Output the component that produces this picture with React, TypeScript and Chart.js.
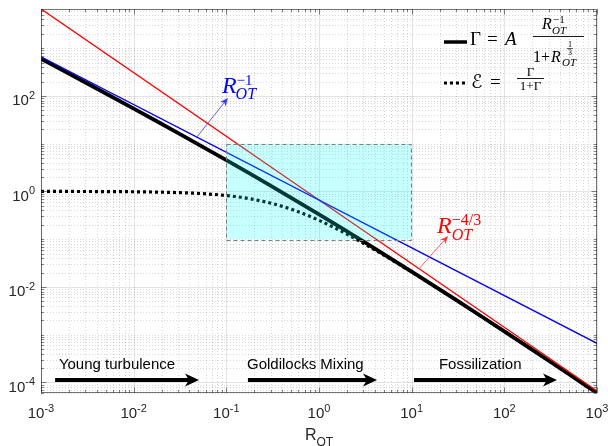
import React, { useEffect, useRef } from 'react';
import { Chart, registerables } from 'chart.js';

Chart.register(...registerables);

// ---- data ----
const xValues = [0.001, 0.0017783, 0.0031623, 0.0056234, 0.01, 0.017783, 0.031623, 0.056234, 0.1, 0.17783, 0.31623, 0.56234, 1, 1.7783, 3.1623, 5.6234, 10, 17.783, 31.623, 56.234, 100, 177.83, 316.23, 562.34, 1000];
const gammaValues = [600, 331.0, 182.0, 99.65, 54.3, 29.43, 15.857, 8.486, 4.508, 2.3756, 1.2414, 0.64297, 0.33, 0.16782, 0.084574, 0.042244, 0.020923, 0.010281, 0.0050144, 0.0024294, 0.0011699, 5.6035e-4, 2.6714e-4, 1.2683e-4, 6.0e-5];
const efficiencyValues = [0.99834, 0.99699, 0.99454, 0.99006, 0.98191, 0.96714, 0.94068, 0.89458, 0.81844, 0.70376, 0.55385, 0.39135, 0.24812, 0.14371, 0.07798, 0.040532, 0.020494, 0.010176, 0.0049894, 0.0024235, 0.0011685, 5.6004e-4, 2.6707e-4, 1.2681e-4, 5.9996e-5];
const powerLawX = [0.001, 1000];
const inverseValues = [660, 6.6e-4];
const fourThirdsValues = [6600, 6.6e-5];

const xTickExponents = [-3, -2, -1, 0, 1, 2, 3];
const yTickExponents = [-4, -2, 0, 2];
const xRange = [1e-3, 1e3];
const yRange = [6e-5, 6600];

const boxX = [0.1, 10];
const boxY = [0.1, 10];

const regimeLabels = ['Young turbulence', 'Goldilocks Mixing', 'Fossilization'];
const regimeTextX = [1.56e-3, 0.167, 19.7];
const regimeArrowStart = [1.42e-3, 0.171, 10.6];
const regimeArrowEnd = [0.0507, 4.23, 370];
const regimeTextY = 1.9e-4;
const regimeArrowY = 1.12e-4;

// annotation anchors in data units
const blueArrow = { from: [0.048, 13.7], to: [0.104, 90.4], label: [0.0897, 115] };
const redArrow = { from: [12.0, 0.024], to: [24.7, 0.1164], label: [18.8, 0.134] };

const SANS = '"Liberation Sans", Arial, Helvetica, sans-serif';
const SERIF = '"Liberation Serif", "Times New Roman", "DejaVu Serif", serif';
const AXIS = '#262626';

const pts = (xs: number[], ys: number[]) => xs.map((v, i) => ({ x: v, y: ys[i] }));

function drawArrow(ctx: CanvasRenderingContext2D, x1: number, y1: number, x2: number, y2: number, width: number, headLen: number, headHalf: number, color: string) {
  const ang = Math.atan2(y2 - y1, x2 - x1);
  const c = Math.cos(ang), s = Math.sin(ang);
  const notch = headLen * 0.72;
  ctx.save();
  ctx.strokeStyle = color;
  ctx.fillStyle = color;
  ctx.lineWidth = width;
  ctx.lineCap = 'butt';
  ctx.setLineDash([]);
  ctx.beginPath();
  ctx.moveTo(x1, y1);
  ctx.lineTo(x2 - c * notch, y2 - s * notch);
  ctx.stroke();
  ctx.beginPath();
  ctx.moveTo(x2, y2);
  ctx.lineTo(x2 - c * headLen - s * headHalf, y2 - s * headLen + c * headHalf);
  ctx.lineTo(x2 - c * notch, y2 - s * notch);
  ctx.lineTo(x2 - c * headLen + s * headHalf, y2 - s * headLen - c * headHalf);
  ctx.closePath();
  ctx.fill();
  ctx.restore();
}

function drawPow(ctx: CanvasRenderingContext2D, exp: string, px: number, baseline: number, align: 'center' | 'right') {
  ctx.font = `15px ${SANS}`;
  const wb = ctx.measureText('10').width;
  ctx.font = `11px ${SANS}`;
  const we = ctx.measureText(exp).width;
  const total = wb + we;
  const left = align === 'center' ? px - total / 2 : px - total;
  ctx.font = `15px ${SANS}`;
  ctx.fillText('10', left, baseline);
  ctx.font = `11px ${SANS}`;
  ctx.fillText(exp, left + wb, baseline - 6.5);
}

const decorPlugin = {
  id: 'matlabDecor',
  beforeDatasetsDraw(chart: any) {
    const { ctx, chartArea: a, scales } = chart;
    const xs = scales.x, ys = scales.y;
    ctx.save();
    ctx.lineWidth = 1;
    // vertical grid
    for (let d = -3; d <= 3; d++) {
      for (let k = 1; k <= 9; k++) {
        const v = k * Math.pow(10, d);
        if (v < xRange[0] * 0.999 || v > xRange[1] * 1.001) continue;
        const px = Math.round(xs.getPixelForValue(v)) + 0.5;
        const major = k === 1;
        ctx.strokeStyle = major ? 'rgba(38,38,38,0.13)' : 'rgba(38,38,38,0.18)';
        ctx.setLineDash(major ? [] : [1, 2]);
        ctx.beginPath();
        ctx.moveTo(px, a.top);
        ctx.lineTo(px, a.bottom);
        ctx.stroke();
      }
    }
    // horizontal grid
    for (let d = -5; d <= 3; d++) {
      for (let k = 1; k <= 9; k++) {
        const v = k * Math.pow(10, d);
        if (v < yRange[0] || v > yRange[1]) continue;
        const py = Math.round(ys.getPixelForValue(v)) + 0.5;
        const major = k === 1 && yTickExponents.includes(d);
        ctx.strokeStyle = major ? 'rgba(38,38,38,0.13)' : 'rgba(38,38,38,0.18)';
        ctx.setLineDash(major ? [] : [1, 2]);
        ctx.beginPath();
        ctx.moveTo(a.left, py);
        ctx.lineTo(a.right, py);
        ctx.stroke();
      }
    }
    ctx.restore();
  },
  afterDatasetsDraw(chart: any) {
    const { ctx, chartArea: a, scales } = chart;
    const xs = scales.x, ys = scales.y;
    const X = (v: number) => xs.getPixelForValue(v);
    const Y = (v: number) => ys.getPixelForValue(v);
    ctx.save();

    // cyan region
    const bx1 = X(boxX[0]), bx2 = X(boxX[1]), by1 = Y(boxY[1]), by2 = Y(boxY[0]);
    ctx.fillStyle = 'rgba(0,255,255,0.22)';
    ctx.fillRect(bx1, by1, bx2 - bx1, by2 - by1);
    ctx.strokeStyle = '#7f7f7f';
    ctx.lineWidth = 1;
    ctx.setLineDash([4, 3]);
    ctx.strokeRect(Math.round(bx1) + 0.5, Math.round(by1) + 0.5, Math.round(bx2 - bx1), Math.round(by2 - by1));
    ctx.setLineDash([]);

    // axes box
    ctx.strokeStyle = 'rgba(38,38,38,0.65)';
    ctx.lineWidth = 1;
    ctx.strokeRect(Math.round(a.left) + 0.5, Math.round(a.top) + 0.5, Math.round(a.right - a.left) - 1, Math.round(a.bottom - a.top) - 1);

    // ticks (inward, all sides)
    ctx.strokeStyle = 'rgba(38,38,38,0.7)';
    ctx.lineWidth = 0.8;
    for (let d = -3; d <= 3; d++) {
      for (let k = 1; k <= 9; k++) {
        const v = k * Math.pow(10, d);
        if (v < xRange[0] * 0.999 || v > xRange[1] * 1.001) continue;
        const px = Math.round(X(v)) + 0.5;
        const len = k === 1 ? 5.5 : 3;
        ctx.beginPath();
        ctx.moveTo(px, a.bottom);
        ctx.lineTo(px, a.bottom - len);
        ctx.moveTo(px, a.top);
        ctx.lineTo(px, a.top + len);
        ctx.stroke();
      }
    }
    for (let d = -5; d <= 3; d++) {
      for (let k = 1; k <= 9; k++) {
        const v = k * Math.pow(10, d);
        if (v < yRange[0] || v > yRange[1]) continue;
        const py = Math.round(Y(v)) + 0.5;
        const len = k === 1 && yTickExponents.includes(d) ? 5.5 : 3;
        ctx.beginPath();
        ctx.moveTo(a.left, py);
        ctx.lineTo(a.left + len, py);
        ctx.moveTo(a.right, py);
        ctx.lineTo(a.right - len, py);
        ctx.stroke();
      }
    }

    // tick labels
    ctx.fillStyle = AXIS;
    ctx.textAlign = 'left';
    ctx.textBaseline = 'alphabetic';
    for (const e of xTickExponents) drawPow(ctx, String(e), X(Math.pow(10, e)), a.bottom + 25, 'center');
    for (const e of yTickExponents) drawPow(ctx, String(e), a.left - 6, Y(Math.pow(10, e)) + 9.5, 'right');

    // x title R_OT
    ctx.font = `16px ${SANS}`;
    const wR = ctx.measureText('R').width;
    ctx.font = `12px ${SANS}`;
    const wOT = ctx.measureText('OT').width;
    const cx = X(1);
    const tl = cx - (wR + wOT) / 2;
    ctx.font = `16px ${SANS}`;
    ctx.fillText('R', tl, a.bottom + 47);
    ctx.font = `12px ${SANS}`;
    ctx.fillText('OT', tl + wR, a.bottom + 53);

    // regime arrows and texts
    ctx.fillStyle = '#000';
    ctx.font = `15px ${SANS}`;
    for (let i = 0; i < regimeLabels.length; i++) {
      ctx.fillText(regimeLabels[i], X(regimeTextX[i]), Y(regimeTextY));
      drawArrow(ctx, X(regimeArrowStart[i]), Y(regimeArrowY), X(regimeArrowEnd[i]), Y(regimeArrowY), 4, 14, 6.5, '#000');
    }

    // blue annotation R_OT^{-1}
    drawArrow(ctx, X(blueArrow.from[0]), Y(blueArrow.from[1]), X(blueArrow.to[0]), Y(blueArrow.to[1]), 0.8, 8, 3.5, '#3a3aff');
    {
      const lx = X(blueArrow.label[0]), ly = Y(blueArrow.label[1]);
      ctx.fillStyle = '#0000ff';
      ctx.font = `italic 24px ${SERIF}`;
      ctx.fillText('R', lx, ly);
      const w = ctx.measureText('R').width;
      ctx.font = `15px ${SERIF}`;
      ctx.fillText('\u22121', lx + w, ly - 8);
      ctx.font = `italic 16px ${SERIF}`;
      ctx.fillText('OT', lx + w - 1, ly + 6);
    }

    // red annotation R_OT^{-4/3}
    drawArrow(ctx, X(redArrow.from[0]), Y(redArrow.from[1]), X(redArrow.to[0]), Y(redArrow.to[1]), 0.8, 8, 3.5, '#ff3a3a');
    {
      const lx = X(redArrow.label[0]), ly = Y(redArrow.label[1]);
      ctx.fillStyle = '#ff0000';
      ctx.font = `italic 24px ${SERIF}`;
      ctx.fillText('R', lx, ly);
      const w = ctx.measureText('R').width;
      ctx.font = `16px ${SERIF}`;
      ctx.fillText('\u22124/3', lx + w, ly - 8);
      ctx.font = `italic 16px ${SERIF}`;
      ctx.fillText('OT', lx + w, ly + 7);
    }

    // legend (top right)
    {
      const L = a.right - 153; // 444
      const T = a.top;
      ctx.fillStyle = '#000';
      ctx.strokeStyle = '#000';
      // row 1 line
      ctx.lineWidth = 3.5;
      ctx.setLineDash([]);
      ctx.beginPath();
      ctx.moveTo(L, T + 33);
      ctx.lineTo(L + 23, T + 33);
      ctx.stroke();
      ctx.font = `19px ${SERIF}`;
      ctx.fillText('\u0393', L + 26, T + 36);
      ctx.fillText('=', L + 43, T + 36);
      ctx.font = `italic 19px ${SERIF}`;
      ctx.fillText('A', L + 61, T + 36);
      // fraction bar
      ctx.lineWidth = 0.9;
      ctx.beginPath();
      ctx.moveTo(L + 89, T + 27.5);
      ctx.lineTo(L + 140, T + 27.5);
      ctx.stroke();
      // numerator R_OT^{-1}
      ctx.font = `italic 16px ${SERIF}`;
      ctx.fillText('R', L + 98, T + 20);
      ctx.font = `11px ${SERIF}`;
      ctx.fillText('\u22121', L + 109, T + 14);
      ctx.font = `italic 11px ${SERIF}`;
      ctx.fillText('OT', L + 108, T + 25);
      // denominator 1+R_OT^{1/3}
      ctx.font = `16px ${SERIF}`;
      ctx.fillText('1+', L + 89, T + 53);
      ctx.font = `italic 16px ${SERIF}`;
      ctx.fillText('R', L + 107, T + 53);
      ctx.font = `italic 11px ${SERIF}`;
      ctx.fillText('OT', L + 118, T + 57);
      ctx.font = `8px ${SERIF}`;
      ctx.textAlign = 'center';
      ctx.fillText('1', L + 126, T + 38);
      ctx.fillText('3', L + 126, T + 46);
      ctx.textAlign = 'left';
      ctx.lineWidth = 0.6;
      ctx.beginPath();
      ctx.moveTo(L + 123, T + 39.5);
      ctx.lineTo(L + 129, T + 39.5);
      ctx.stroke();

      // row 2 dotted line
      ctx.lineWidth = 3;
      ctx.setLineDash([3, 3]);
      ctx.lineCap = 'butt';
      ctx.beginPath();
      ctx.moveTo(L, T + 74);
      ctx.lineTo(L + 24, T + 74);
      ctx.stroke();
      ctx.setLineDash([]);
      ctx.font = `19px "DejaVu Serif", "DejaVu Sans", serif`;
      ctx.fillText('\u2130', L + 27, T + 79);
      ctx.font = `19px ${SERIF}`;
      ctx.fillText('=', L + 46, T + 79);
      ctx.lineWidth = 0.9;
      ctx.beginPath();
      ctx.moveTo(L + 73, T + 69.5);
      ctx.lineTo(L + 100, T + 69.5);
      ctx.stroke();
      ctx.font = `13px ${SERIF}`;
      ctx.textAlign = 'center';
      ctx.fillText('\u0393', L + 86.5, T + 67);
      ctx.fillText('1+\u0393', L + 86.5, T + 81);
      ctx.textAlign = 'left';
    }

    ctx.restore();
  },
};

export default function App() {
  const ref = useRef<HTMLCanvasElement>(null);
  useEffect(() => {
    if (!ref.current) return;
    const chart = new Chart(ref.current, {
      type: 'line',
      data: {
        datasets: [
          { label: 'R^-1', data: pts(powerLawX, inverseValues), borderColor: '#0000ff', borderWidth: 1.4 },
          { label: 'R^-4/3', data: pts(powerLawX, fourThirdsValues), borderColor: '#ff0000', borderWidth: 1.4 },
          { label: 'E', data: pts(xValues, efficiencyValues), borderColor: '#000000', borderWidth: 3.2, borderDash: [3, 3], borderCapStyle: 'butt', cubicInterpolationMode: 'monotone' },
          { label: 'Gamma', data: pts(xValues, gammaValues), borderColor: '#000000', borderWidth: 3.8, cubicInterpolationMode: 'monotone' },
        ] as any,
      },
      options: {
        animation: false,
        responsive: false,
        devicePixelRatio: 1,
        layout: { padding: { left: 41, top: 9, right: 11, bottom: 53 } },
        elements: { point: { radius: 0 }, line: { fill: false } },
        plugins: { legend: { display: false }, tooltip: { enabled: false } },
        scales: {
          x: { type: 'logarithmic', min: xRange[0], max: xRange[1], display: false },
          y: { type: 'logarithmic', min: yRange[0], max: yRange[1], display: false },
        },
      } as any,
      plugins: [decorPlugin],
    });
    return () => chart.destroy();
  }, []);
  return (
    <div style={{ position: 'fixed', left: 0, top: 0, width: 608, height: 446, background: '#fff' }}>
      <canvas ref={ref} width={608} height={446} style={{ display: 'block', width: 608, height: 446 }} />
    </div>
  );
}
